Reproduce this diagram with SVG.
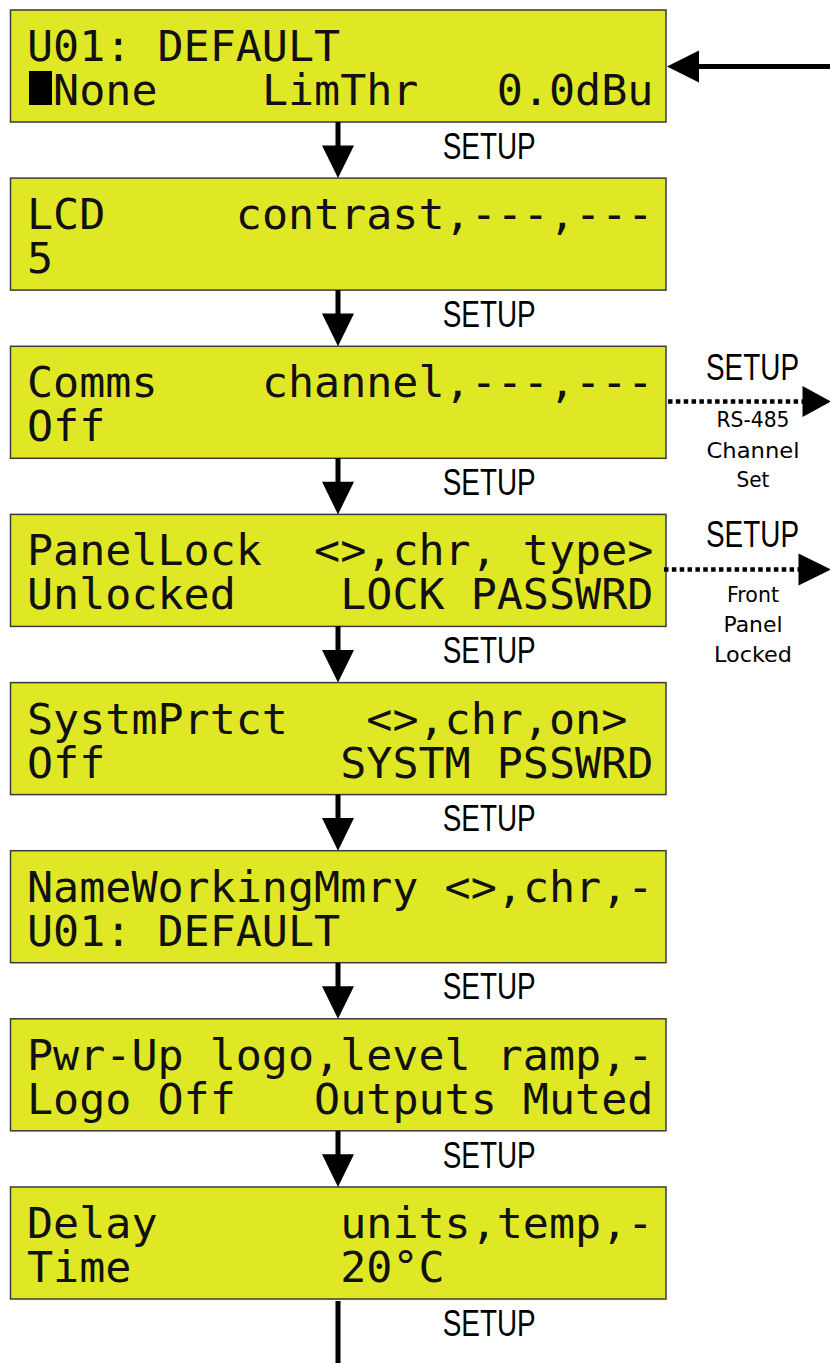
<svg xmlns="http://www.w3.org/2000/svg" width="830" height="1363" viewBox="0 0 830 1363">
<style>
.box{fill:#e0e826;stroke:#3a3a3a;stroke-width:1.5}
.lcd{font-family:"DejaVu Sans Mono","Liberation Mono",monospace;font-size:43.35px;fill:#111}
.lbl{font-family:"Liberation Sans",Arial,sans-serif;font-size:36px;fill:#000}
.sub{font-family:"DejaVu Sans","Liberation Sans",sans-serif;font-size:22px;fill:#000}
.ln{stroke:#000;stroke-width:5;fill:none}
.dot{stroke:#000;stroke-width:4.5;stroke-dasharray:4.5 3.35;fill:none}
.head{fill:#000}
</style>
<rect width="830" height="1363" fill="#fff"/>

<g id="node-u01">
<rect class="box" x="10.5" y="10" width="655.5" height="112"/>
<rect x="29" y="71" width="23" height="34" fill="#000"/>
<text class="lcd" transform="translate(0,10)"><tspan x="27" y="51">U01: DEFAULT</tspan><tspan x="53.1" y="95">None</tspan><tspan x="261.9" y="95">LimThr</tspan><tspan x="496.8" y="95">0.0dBu</tspan></text>
</g>

<g id="node-lcd">
<rect class="box" x="10.5" y="178.1" width="655.5" height="112"/>
<text class="lcd" transform="translate(0,178.1)"><tspan x="27" y="51">LCD</tspan><tspan x="235.8" y="51">contrast,---,---</tspan><tspan x="27" y="95">5</tspan></text>
</g>

<g id="node-comms">
<rect class="box" x="10.5" y="346.3" width="655.5" height="112"/>
<text class="lcd" transform="translate(0,346.3)"><tspan x="27" y="51">Comms</tspan><tspan x="261.9" y="51">channel,---,---</tspan><tspan x="27" y="95">Off</tspan></text>
</g>

<g id="node-panellock">
<rect class="box" x="10.5" y="514.4" width="655.5" height="112"/>
<text class="lcd" transform="translate(0,514.4)"><tspan x="27" y="51">PanelLock</tspan><tspan x="314.1" y="51">&lt;&gt;,chr, type&gt;</tspan><tspan x="27" y="95">Unlocked</tspan><tspan x="340.2" y="95">LOCK PASSWRD</tspan></text>
</g>

<g id="node-systmprtct">
<rect class="box" x="10.5" y="682.6" width="655.5" height="112"/>
<text class="lcd" transform="translate(0,682.6)"><tspan x="27" y="51">SystmPrtct</tspan><tspan x="366.3" y="51">&lt;&gt;,chr,on&gt;</tspan><tspan x="27" y="95">Off</tspan><tspan x="340.2" y="95">SYSTM PSSWRD</tspan></text>
</g>

<g id="node-nameworkingmmry">
<rect class="box" x="10.5" y="850.7" width="655.5" height="112"/>
<text class="lcd" transform="translate(0,850.7)"><tspan x="27" y="51">NameWorkingMmry</tspan><tspan x="444.6" y="51">&lt;&gt;,chr,-</tspan><tspan x="27" y="95">U01: DEFAULT</tspan></text>
</g>

<g id="node-pwrup">
<rect class="box" x="10.5" y="1018.8" width="655.5" height="112"/>
<text class="lcd" transform="translate(0,1018.8)"><tspan x="27" y="51">Pwr-Up logo,level ramp,-</tspan><tspan x="27" y="95">Logo Off</tspan><tspan x="314.1" y="95">Outputs Muted</tspan></text>
</g>

<g id="node-delay">
<rect class="box" x="10.5" y="1187" width="655.5" height="112"/>
<text class="lcd" transform="translate(0,1187)"><tspan x="27" y="51">Delay</tspan><tspan x="340.2" y="51">units,temp,-</tspan><tspan x="27" y="95">Time</tspan><tspan x="340.2" y="95">20°C</tspan></text>
</g>

<g id="connectors">
<line class="ln" x1="830" y1="66.5" x2="697" y2="66.5"/>
<polygon class="head" points="667,66.5 699,50.5 699,82.5"/>

<line class="ln" x1="338" y1="122" x2="338" y2="147"/>
<polygon class="head" points="322,145.5 354,145.5 338,178.1"/>
<line class="ln" x1="338" y1="290.1" x2="338" y2="315"/>
<polygon class="head" points="322,313.6 354,313.6 338,346.3"/>
<line class="ln" x1="338" y1="458.3" x2="338" y2="483"/>
<polygon class="head" points="322,481.8 354,481.8 338,514.4"/>
<line class="ln" x1="338" y1="626.4" x2="338" y2="651"/>
<polygon class="head" points="322,649.9 354,649.9 338,682.6"/>
<line class="ln" x1="338" y1="794.6" x2="338" y2="819"/>
<polygon class="head" points="322,818.1 354,818.1 338,850.7"/>
<line class="ln" x1="338" y1="962.7" x2="338" y2="987"/>
<polygon class="head" points="322,986.2 354,986.2 338,1018.8"/>
<line class="ln" x1="338" y1="1130.8" x2="338" y2="1155"/>
<polygon class="head" points="322,1154.3 354,1154.3 338,1187"/>
<line class="ln" x1="338" y1="1301" x2="338" y2="1363"/>

<line class="dot" x1="668" y1="401.5" x2="803" y2="401.5"/>
<polygon class="head" points="802.5,386 802.5,417 831,401.5"/>
<line class="dot" x1="664" y1="569.5" x2="799" y2="569.5"/>
<polygon class="head" points="798.5,553.5 798.5,585.5 831,569.5"/>

<text class="lbl" x="442.7" y="158.7" textLength="93" lengthAdjust="spacingAndGlyphs">SETUP</text>
<text class="lbl" x="442.7" y="326.8" textLength="93" lengthAdjust="spacingAndGlyphs">SETUP</text>
<text class="lbl" x="442.7" y="495" textLength="93" lengthAdjust="spacingAndGlyphs">SETUP</text>
<text class="lbl" x="442.7" y="663.1" textLength="93" lengthAdjust="spacingAndGlyphs">SETUP</text>
<text class="lbl" x="442.7" y="831.3" textLength="93" lengthAdjust="spacingAndGlyphs">SETUP</text>
<text class="lbl" x="442.7" y="999.4" textLength="93" lengthAdjust="spacingAndGlyphs">SETUP</text>
<text class="lbl" x="442.7" y="1167.5" textLength="93" lengthAdjust="spacingAndGlyphs">SETUP</text>
<text class="lbl" x="442.7" y="1335.7" textLength="93" lengthAdjust="spacingAndGlyphs">SETUP</text>

<text class="lbl" x="706" y="380" textLength="93" lengthAdjust="spacingAndGlyphs">SETUP</text>
<text class="sub" x="716.5" y="427" textLength="73" lengthAdjust="spacingAndGlyphs">RS-485</text>
<text class="sub" x="706.5" y="458" textLength="93" lengthAdjust="spacingAndGlyphs">Channel</text>
<text class="sub" x="736.5" y="487" textLength="33" lengthAdjust="spacingAndGlyphs">Set</text>

<text class="lbl" x="706" y="547" textLength="93" lengthAdjust="spacingAndGlyphs">SETUP</text>
<text class="sub" x="727" y="602" textLength="52" lengthAdjust="spacingAndGlyphs">Front</text>
<text class="sub" x="723.5" y="632" textLength="59" lengthAdjust="spacingAndGlyphs">Panel</text>
<text class="sub" x="714" y="662" textLength="78" lengthAdjust="spacingAndGlyphs">Locked</text>
</g>
</svg>
